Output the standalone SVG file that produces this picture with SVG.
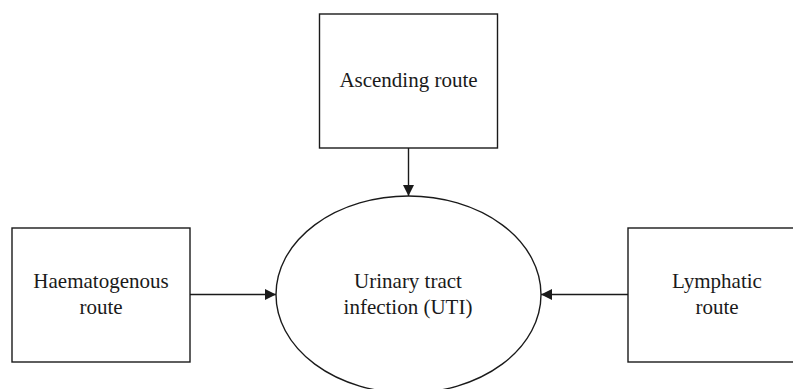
<svg xmlns="http://www.w3.org/2000/svg" width="793" height="389" viewBox="0 0 793 389">
<style>
.box{fill:#fff;stroke:#1a1a1a;stroke-width:1.4}
.lbl{font-family:"Liberation Serif","Times New Roman",serif;font-size:21px;fill:#1a1a1a;text-anchor:middle}
.edge{stroke:#1a1a1a;stroke-width:1.4;fill:none}
</style>
<defs>
<marker id="ah" markerWidth="12" markerHeight="12" refX="11" refY="6" orient="auto" markerUnits="userSpaceOnUse">
<path d="M0,0.5 L11,6 L0,11.5 Z" fill="#1a1a1a"/>
</marker>
</defs>
<rect width="793" height="389" fill="#fff"/>
<g id="connectors">
<line class="edge" x1="408.5" y1="148" x2="408.5" y2="196" marker-end="url(#ah)"/>
<line class="edge" x1="190" y1="294.5" x2="276" y2="294.5" marker-end="url(#ah)"/>
<line class="edge" x1="628" y1="294.5" x2="541" y2="294.5" marker-end="url(#ah)"/>
</g>
<g id="ascending">
<rect class="box" x="319.5" y="14" width="178" height="134"/>
<text class="lbl" x="408.5" y="87">Ascending route</text>
</g>
<g id="uti">
<ellipse class="box" cx="408.5" cy="294.5" rx="132.5" ry="98.5"/>
<text class="lbl" x="408" y="288">Urinary tract</text>
<text class="lbl" x="408" y="313.5">infection (UTI)</text>
</g>
<g id="haematogenous">
<rect class="box" x="12" y="228" width="178" height="134"/>
<text class="lbl" x="101" y="288">Haematogenous</text>
<text class="lbl" x="101" y="314">route</text>
</g>
<g id="lymphatic">
<rect class="box" x="628" y="228" width="178" height="134"/>
<text class="lbl" x="717" y="288">Lymphatic</text>
<text class="lbl" x="717" y="314">route</text>
</g>
</svg>
